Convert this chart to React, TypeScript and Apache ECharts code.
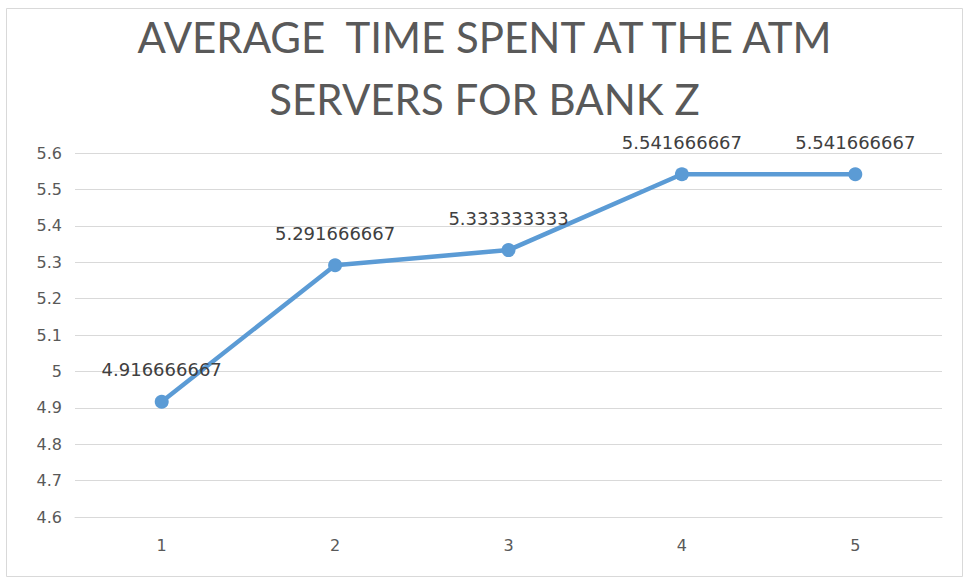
import React, { useEffect, useRef } from "react";
import * as echarts from "echarts";

const categories = ["1", "2", "3", "4", "5"];
const values = [4.916666667, 5.291666667, 5.333333333, 5.541666667, 5.541666667];
const labels = ["4.916666667", "5.291666667", "5.333333333", "5.541666667", "5.541666667"];
const titleLines = ["AVERAGE  TIME SPENT AT THE ATM", "SERVERS FOR BANK Z"];

export default function App() {
  const ref = useRef<HTMLDivElement>(null);
  useEffect(() => {
    const chart = echarts.init(ref.current!, null, { renderer: "svg" });
    chart.setOption({
      animation: false,
      backgroundColor: "#ffffff",
      title: {
        text: titleLines.join("\n"),
        left: "center",
        top: 1,
        textStyle: {
          fontFamily: "Lato",
          fontWeight: "normal",
          fontSize: 42,
          lineHeight: 62,
          color: "#595959",
        },
      },
      graphic: [
        {
          type: "rect",
          shape: { x: 6.5, y: 8.5, width: 956, height: 568 },
          style: { fill: "none", stroke: "#d9d9d9", lineWidth: 1 },
          silent: true,
        },
      ],
      grid: { left: 75, right: 27, top: 153, bottom: 65, containLabel: false },
      xAxis: {
        type: "category",
        data: categories,
        boundaryGap: true,
        axisLine: { show: true, lineStyle: { color: "#d9d9d9" } },
        axisTick: { show: false },
        axisLabel: { color: "#595959", fontSize: 16, margin: 20, fontFamily: "DejaVu Sans" },
      },
      yAxis: {
        type: "value",
        min: 4.6,
        max: 5.6,
        interval: 0.1,
        axisLine: { show: false },
        axisTick: { show: false },
        axisLabel: {
          color: "#595959",
          fontSize: 16,
          margin: 13,
          fontFamily: "DejaVu Sans",
          formatter: (v: number) => String(Math.round(v * 10) / 10),
        },
        splitLine: { lineStyle: { color: "#d9d9d9", width: 1 } },
      },
      series: [
        {
          type: "line",
          data: values,
          symbol: "circle",
          symbolSize: 14,
          lineStyle: { color: "#5b9bd5", width: 4.5 },
          itemStyle: { color: "#5b9bd5" },
          label: {
            show: true,
            position: "top",
            distance: 16,
            color: "#404040",
            fontSize: 18,
            fontFamily: "DejaVu Sans",
            formatter: (p: any) => labels[p.dataIndex],
          },
        },
      ],
    });
    return () => chart.dispose();
  }, []);
  return (
    <div
      ref={ref}
      style={{ position: "absolute", left: 0, top: 0, width: 969, height: 582 }}
    />
  );
}
